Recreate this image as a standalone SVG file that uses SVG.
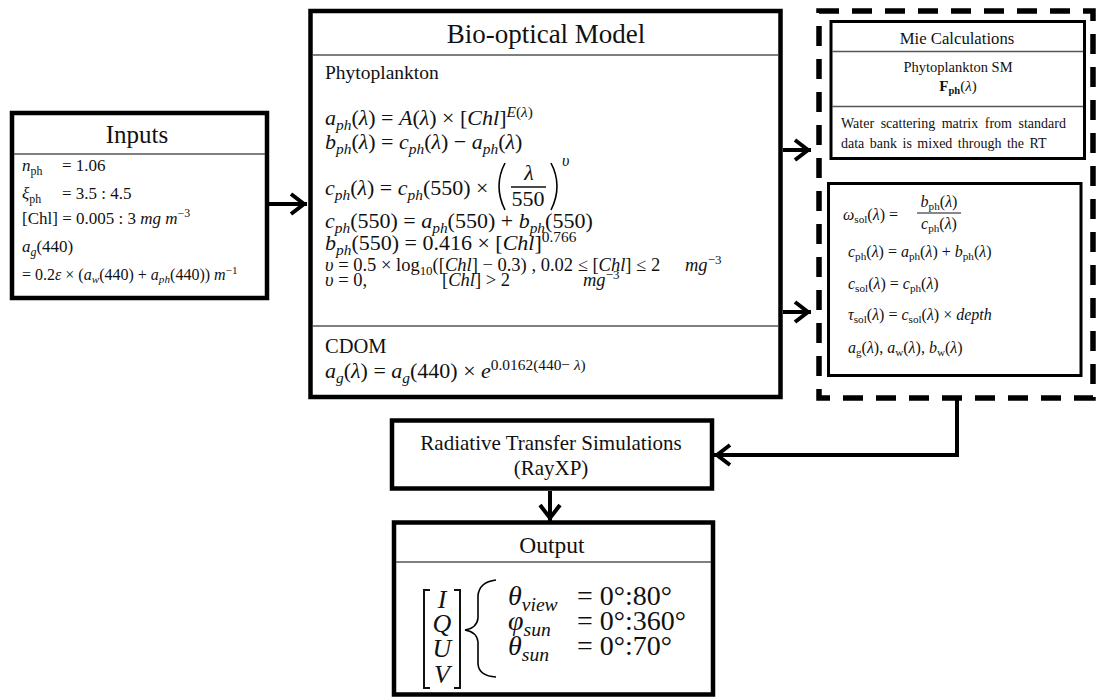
<svg xmlns="http://www.w3.org/2000/svg" width="1096" height="698" viewBox="0 0 1096 698">
<style>
text{font-family:"Liberation Serif","Times New Roman",serif;fill:#111}
.i{font-style:italic}
.b{font-weight:bold}
.sb{font-size:70%;baseline-shift:-0.3em}
.sp{font-size:70%;baseline-shift:0.55em}
.c{text-anchor:middle}
.box{fill:#fff;stroke:#000;stroke-width:4.5}
.thin{fill:#fff;stroke:#000;stroke-width:3}
.sep{stroke:#555;stroke-width:1.5}
.conn{fill:none;stroke:#000;stroke-width:4}
.dl{fill:none;stroke:#000;stroke-width:1.6}
</style>
<defs>
<marker id="ah" viewBox="-20 -15 25 30" markerWidth="25" markerHeight="30" refX="0" refY="0" orient="auto" markerUnits="userSpaceOnUse">
<path d="M-16,-10 L-3,0 L-16,10" fill="none" stroke="#000" stroke-width="4"/>
</marker>
</defs>
<rect width="1096" height="698" fill="#fff"/>

<g id="inputs">
<rect class="box" x="12" y="113" width="255" height="185"/>
<line class="sep" x1="14" y1="154" x2="265" y2="154"/>
<text class="c" x="137" y="143" font-size="25">Inputs</text>
<text x="22" y="171" font-size="17"><tspan class="i">n</tspan><tspan class="sb">ph</tspan></text>
<text x="62" y="171" font-size="17">= 1.06</text>
<text x="22" y="199" font-size="17"><tspan class="i">ξ</tspan><tspan class="sb">ph</tspan></text>
<text x="62" y="199" font-size="17">= 3.5 : 4.5</text>
<text x="22" y="224" font-size="17">[Chl] = 0.005 : 3 <tspan class="i">mg m</tspan><tspan class="sp">−3</tspan></text>
<text x="22" y="252" font-size="17"><tspan class="i">a</tspan><tspan class="sb i">g</tspan>(440)</text>
<text x="22" y="280" font-size="16">= 0.2<tspan class="i">ε</tspan> × (<tspan class="i">a</tspan><tspan class="sb i">w</tspan>(440) + <tspan class="i">a</tspan><tspan class="sb i">ph</tspan>(440))  <tspan class="i">m</tspan><tspan class="sp">−1</tspan></text>
</g>

<g id="bio-optical-model">
<rect class="box" x="310.5" y="11" width="470" height="386" stroke-width="5"/>
<line class="sep" x1="313" y1="55" x2="778" y2="55"/>
<line class="sep" x1="313" y1="326" x2="778" y2="326"/>
<text class="c" x="546" y="43" font-size="27">Bio-optical Model</text>
<text x="325" y="79" font-size="19.5">Phytoplankton</text>
<g font-size="22">
<text x="325" y="125"><tspan class="i">a</tspan><tspan class="sb i">ph</tspan>(<tspan class="i">λ</tspan>) = <tspan class="i">A</tspan>(<tspan class="i">λ</tspan>) × [<tspan class="i">Chl</tspan>]<tspan class="sp"><tspan class="i">E</tspan>(<tspan class="i">λ</tspan>)</tspan></text>
<text x="325" y="149"><tspan class="i">b</tspan><tspan class="sb i">ph</tspan>(<tspan class="i">λ</tspan>) = <tspan class="i">c</tspan><tspan class="sb i">ph</tspan>(<tspan class="i">λ</tspan>) − <tspan class="i">a</tspan><tspan class="sb i">ph</tspan>(<tspan class="i">λ</tspan>)</text>
<text x="325" y="195"><tspan class="i">c</tspan><tspan class="sb i">ph</tspan>(<tspan class="i">λ</tspan>) = <tspan class="i">c</tspan><tspan class="sb i">ph</tspan>(550) ×</text>
<text class="c i" x="529" y="180">λ</text>
<text class="c" x="528" y="206">550</text>
<text class="i" x="562" y="166" font-size="16">υ</text>
<text x="325" y="228"><tspan class="i">c</tspan><tspan class="sb i">ph</tspan>(550) = <tspan class="i">a</tspan><tspan class="sb i">ph</tspan>(550) + <tspan class="i">b</tspan><tspan class="sb i">ph</tspan>(550)</text>
<text x="325" y="250"><tspan class="i">b</tspan><tspan class="sb i">ph</tspan>(550) = 0.416 × [<tspan class="i">Chl</tspan>]<tspan class="sp">0.766</tspan></text>
<text x="325" y="378"><tspan class="i">a</tspan><tspan class="sb i">g</tspan>(<tspan class="i">λ</tspan>) =  <tspan class="i">a</tspan><tspan class="sb i">g</tspan>(440) × <tspan class="i">e</tspan><tspan class="sp">0.0162(440− <tspan class="i">λ</tspan>)</tspan></text>
</g>
<line x1="511" y1="187" x2="546" y2="187" stroke="#111" stroke-width="1.3"/>
<path class="dl" d="M505,163 Q493,186 505,210"/>
<path class="dl" d="M551,163 Q563,186 551,210"/>
<g font-size="18.5">
<text x="325" y="271"><tspan class="i">υ</tspan> = 0.5 × log<tspan class="sb">10</tspan>([<tspan class="i">Chl</tspan>] − 0.3) , 0.02 ≤ [<tspan class="i">Chl</tspan>] ≤ 2</text>
<text x="685" y="271"><tspan class="i">mg</tspan><tspan class="sp">−3</tspan></text>
<text x="325" y="286"><tspan class="i">υ</tspan> = 0,</text>
<text x="442" y="286">[<tspan class="i">Chl</tspan>] &gt; 2</text>
<text x="583" y="286"><tspan class="i">mg</tspan><tspan class="sp">−3</tspan></text>
</g>
<text x="325" y="353" font-size="20.5">CDOM</text>
</g>

<g id="scattering-group">
<rect x="819" y="11" width="274" height="387" fill="none" stroke="#000" stroke-width="5.5" stroke-dasharray="20 13"/>
</g>

<g id="mie-calculations">
<rect class="thin" x="831" y="21.5" width="253.5" height="137"/>
<line class="sep" x1="832" y1="51.5" x2="1083" y2="51.5"/>
<line class="sep" x1="832" y1="106.5" x2="1083" y2="106.5"/>
<text class="c" x="957" y="44" font-size="16.7">Mie Calculations</text>
<text class="c" x="958" y="72" font-size="14.5">Phytoplankton  SM</text>
<text class="c" x="958" y="91" font-size="15"><tspan class="b">F</tspan><tspan class="sb b">ph</tspan>(<tspan class="i">λ</tspan>)</text>
<text x="841" y="128" font-size="14" textLength="225" lengthAdjust="spacing" word-spacing="3">Water scattering matrix from standard</text>
<text x="841" y="148" font-size="14" word-spacing="2">data bank is mixed through the RT</text>
</g>

<g id="solution-properties">
<rect class="thin" x="828.5" y="183.5" width="252.5" height="192"/>
<g font-size="16">
<text x="843" y="220"><tspan class="i">ω</tspan><tspan class="sb">sol</tspan>(<tspan class="i">λ</tspan>) =</text>
<text class="c" x="939" y="207"><tspan class="i">b</tspan><tspan class="sb">ph</tspan>(<tspan class="i">λ</tspan>)</text>
<line x1="917" y1="213" x2="961" y2="213" stroke="#111" stroke-width="1"/>
<text class="c" x="939" y="229"><tspan class="i">c</tspan><tspan class="sb">ph</tspan>(<tspan class="i">λ</tspan>)</text>
<text x="848" y="257"><tspan class="i">c</tspan><tspan class="sb">ph</tspan>(<tspan class="i">λ</tspan>) = <tspan class="i">a</tspan><tspan class="sb">ph</tspan>(<tspan class="i">λ</tspan>) + <tspan class="i">b</tspan><tspan class="sb">ph</tspan>(<tspan class="i">λ</tspan>)</text>
<text x="848" y="289"><tspan class="i">c</tspan><tspan class="sb">sol</tspan>(<tspan class="i">λ</tspan>) = <tspan class="i">c</tspan><tspan class="sb">ph</tspan>(<tspan class="i">λ</tspan>)</text>
<text x="848" y="320"><tspan class="i">τ</tspan><tspan class="sb">sol</tspan>(<tspan class="i">λ</tspan>) = <tspan class="i">c</tspan><tspan class="sb">sol</tspan>(<tspan class="i">λ</tspan>) × <tspan class="i">depth</tspan></text>
<text x="848" y="353"><tspan class="i">a</tspan><tspan class="sb">g</tspan>(<tspan class="i">λ</tspan>), <tspan class="i">a</tspan><tspan class="sb">w</tspan>(<tspan class="i">λ</tspan>), <tspan class="i">b</tspan><tspan class="sb">w</tspan>(<tspan class="i">λ</tspan>)</text>
</g>
</g>

<g id="radiative-transfer">
<rect class="box" x="392" y="420.5" width="320" height="68"/>
<text class="c" x="551" y="450" font-size="21">Radiative Transfer Simulations</text>
<text class="c" x="551" y="475" font-size="21">(RayXP)</text>
</g>

<g id="output">
<rect class="box" x="394" y="522.5" width="319" height="172"/>
<line class="sep" x1="396" y1="562" x2="711" y2="562"/>
<text class="c" x="552" y="553" font-size="23.5">Output</text>
<path d="M430,590 H424 V688 H430 M454,590 H460 V688 H454" fill="none" stroke="#111" stroke-width="2"/>
<g font-size="26" class="i">
<text class="c" x="442" y="608">I</text>
<text class="c" x="442" y="632">Q</text>
<text class="c" x="442" y="657">U</text>
<text class="c" x="442" y="683">V</text>
</g>
<path class="dl" d="M496,580 Q479,582 478,596 V618 Q477,628 465,630 Q477,632 478,642 V664 Q479,676 496,677"/>
<g font-size="28">
<text x="508" y="605"><tspan class="i">θ</tspan><tspan class="sb i">view</tspan></text>
<text x="577" y="605">= 0°:80°</text>
<text x="508" y="630"><tspan class="i">φ</tspan><tspan class="sb i">sun</tspan></text>
<text x="577" y="630">= 0°:360°</text>
<text x="508" y="655"><tspan class="i">θ</tspan><tspan class="sb i">sun</tspan></text>
<text x="577" y="655">= 0°:70°</text>
</g>
</g>

<g id="connectors">
<path class="conn" d="M269,204 H307" marker-end="url(#ah)"/>
<path class="conn" d="M783,150 H811" marker-end="url(#ah)"/>
<path class="conn" d="M783,312 H811" marker-end="url(#ah)"/>
<path class="conn" d="M957,398 V455 H714" marker-end="url(#ah)"/>
<path class="conn" d="M550,491 V521" marker-end="url(#ah)"/>
</g>
</svg>
